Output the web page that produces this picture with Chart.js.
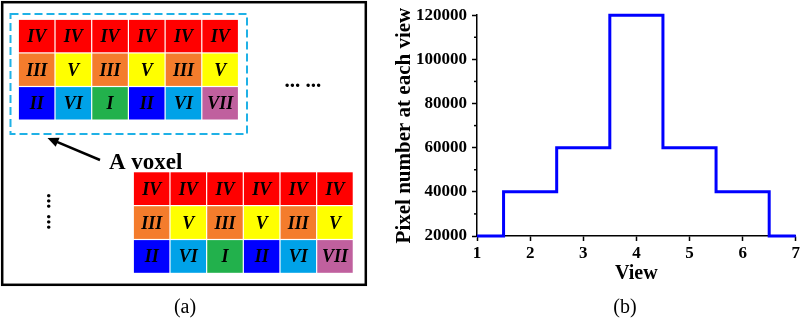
<!DOCTYPE html>
<html><head><meta charset="utf-8">
<script src="https://cdn.jsdelivr.net/npm/chart.js@4"></script>
<style>
html,body{margin:0;padding:0;background:#fff;}
#wrap{position:relative;width:802px;height:333px;overflow:hidden;background:#fff;}
#c1{position:absolute;left:0;top:0;}
#c2{position:absolute;left:392px;top:0;}
</style></head><body>
<div id="wrap">
<canvas id="c1" width="392" height="333"></canvas>
<canvas id="c2" width="410" height="333"></canvas>
</div>
<script>
// ---- data ----
const views = [1, 2, 3, 4, 5, 6, 7];
const pixelCounts = [20000, 40000, 60000, 120000, 60000, 40000, 20000];
const yTicks = [20000, 40000, 60000, 80000, 100000, 120000];
const yMinorTicks = [30000, 50000, 70000, 90000, 110000];
const voxelRows = [
  ['IV', 'IV', 'IV', 'IV', 'IV', 'IV'],
  ['III', 'V', 'III', 'V', 'III', 'V'],
  ['II', 'VI', 'I', 'II', 'VI', 'VII']
];
const viewColors = {I: '#22b14c', II: '#0000ff', III: '#f47c2c', IV: '#ff0000', V: '#ffff00', VI: '#00a2e8', VII: '#c0609e'};
const voxelLabel = 'A voxel';
const captions = ['(a)', '(b)'];
const yTitle = 'Pixel number at each view';
const xTitle = 'View';

const SERIF = '"Liberation Serif", "Times New Roman", serif';

// ---- left panel (diagram) ----
const diagramPlugin = {
  id: 'diagram',
  afterDraw(chart) {
    const ctx = chart.ctx;
    const X = v => chart.scales.x.getPixelForValue(v);
    const Y = v => chart.scales.y.getPixelForValue(v);
    ctx.save();
    // outer frame
    ctx.strokeStyle = '#000'; ctx.lineWidth = 2.5;
    ctx.strokeRect(X(2.2), Y(2.2), X(365.8) - X(2.2), Y(284.8) - Y(2.2));
    // grids
    function grid(ox, oy, cw, ch) {
      voxelRows.forEach((row, r) => {
        row.forEach((lab, c) => {
          const x0 = X(ox + c * cw), x1 = X(ox + (c + 1) * cw);
          const y0 = Y(oy + r * ch), y1 = Y(oy + (r + 1) * ch);
          ctx.fillStyle = viewColors[lab];
          ctx.fillRect(x0 + 0.6, y0 + 0.6, x1 - x0 - 1.2, y1 - y0 - 1.2);
          ctx.fillStyle = '#000';
          ctx.font = 'italic bold 18px ' + SERIF;
          ctx.textAlign = 'center'; ctx.textBaseline = 'alphabetic';
          ctx.fillText(lab, (x0 + x1) / 2, (y0 + y1) / 2 + 6);
        });
      });
    }
    grid(18.3, 19.3, 36.7, 33.6);
    grid(133.3, 171.7, 36.67, 33.9);
    // dashed voxel frame
    ctx.strokeStyle = '#1fb1e6'; ctx.lineWidth = 2;
    ctx.setLineDash([8, 4]);
    ctx.strokeRect(X(10.5), Y(14), X(247) - X(10.5), Y(134) - Y(14));
    ctx.setLineDash([]);
    // ellipses
    ctx.fillStyle = '#000';
    ctx.font = 'bold 21px ' + SERIF;
    ctx.textAlign = 'left'; ctx.textBaseline = 'alphabetic';
    ctx.fillText('... ...', X(284.5), Y(87));
    ctx.save();
    ctx.translate(X(47), Y(193));
    ctx.rotate(Math.PI / 2);
    ctx.fillText('... ...', 0, 0);
    ctx.restore();
    // arrow
    const tx = X(47.5), ty = Y(138), sx = X(100), sy = Y(160);
    const ang = Math.atan2(ty - sy, tx - sx);
    ctx.strokeStyle = '#000'; ctx.lineWidth = 2.5;
    ctx.beginPath();
    ctx.moveTo(sx, sy);
    ctx.lineTo(tx - Math.cos(ang) * 7, ty - Math.sin(ang) * 7);
    ctx.stroke();
    ctx.beginPath();
    ctx.moveTo(tx, ty);
    ctx.lineTo(tx - Math.cos(ang) * 11 - Math.sin(ang) * 5, ty - Math.sin(ang) * 11 + Math.cos(ang) * 5);
    ctx.lineTo(tx - Math.cos(ang) * 11 + Math.sin(ang) * 5, ty - Math.sin(ang) * 11 - Math.cos(ang) * 5);
    ctx.closePath();
    ctx.fill();
    // label
    ctx.font = 'bold 23px ' + SERIF;
    ctx.textAlign = 'left';
    ctx.fillText(voxelLabel, X(109), Y(168.5));
    // caption
    ctx.font = '20px ' + SERIF;
    ctx.textAlign = 'center';
    ctx.fillText(captions[0], X(185), Y(312.5));
    ctx.restore();
  }
};

new Chart(document.getElementById('c1'), {
  type: 'scatter',
  data: {datasets: []},
  options: {
    responsive: false, animation: false, events: [],
    layout: {padding: 0},
    plugins: {legend: {display: false}, tooltip: {enabled: false}},
    scales: {
      x: {type: 'linear', display: false, min: 0, max: 392},
      y: {type: 'linear', display: false, min: 0, max: 333, reverse: true}
    }
  },
  plugins: [diagramPlugin]
});

// ---- right panel (step chart) ----
const extrasPlugin = {
  id: 'extras',
  afterDraw(chart) {
    const ctx = chart.ctx;
    const ys = chart.scales.y;
    const left = chart.chartArea.left;
    ctx.save();
    ctx.strokeStyle = '#000'; ctx.lineWidth = 1.5;
    yMinorTicks.forEach(v => {
      const y = ys.getPixelForValue(v);
      ctx.beginPath(); ctx.moveTo(left - 3, y); ctx.lineTo(left, y); ctx.stroke();
    });
    ctx.fillStyle = '#000';
    ctx.font = '20px ' + SERIF;
    ctx.textAlign = 'center'; ctx.textBaseline = 'alphabetic';
    ctx.fillText(captions[1], 233, 312.5);
    ctx.restore();
  }
};

const tickFont = {family: SERIF, size: 17, weight: 'bold'};
new Chart(document.getElementById('c2'), {
  type: 'line',
  data: {
    datasets: [{
      data: views.map((v, i) => ({x: v, y: pixelCounts[i]})),
      stepped: 'middle',
      borderColor: '#0000ff',
      borderWidth: 3,
      pointRadius: 0,
      fill: false,
      clip: false
    }]
  },
  options: {
    responsive: false, animation: false, events: [],
    layout: {padding: {left: 0, right: 6, top: 14, bottom: 47}},
    plugins: {legend: {display: false}, tooltip: {enabled: false}},
    scales: {
      x: {
        type: 'linear', min: 1, max: 7,
        afterBuildTicks: s => { s.ticks = views.map(v => ({value: v})); },
        ticks: {color: '#000', font: tickFont, padding: 2, maxRotation: 0, autoSkip: false, callback: v => String(v)},
        grid: {display: true, drawOnChartArea: false, drawTicks: true, tickLength: 5, tickWidth: 1.5, tickColor: '#000'},
        border: {display: true, color: '#000', width: 1.5},
        title: {display: true, text: xTitle, color: '#000', font: {family: SERIF, size: 20, weight: 'bold'}, padding: 0},
        afterFit: s => { s.height = 50; }
      },
      y: {
        type: 'linear', min: 20000, max: 120000,
        afterBuildTicks: s => { s.ticks = yTicks.map(v => ({value: v})); },
        ticks: {color: '#000', font: tickFont, padding: 5, autoSkip: false, callback: v => String(v)},
        grid: {display: true, drawOnChartArea: false, drawTicks: true, tickLength: 5, tickWidth: 1.5, tickColor: '#000'},
        border: {display: true, color: '#000', width: 1.5},
        title: {display: true, text: yTitle, color: '#000', font: {family: SERIF, size: 21, weight: 'bold'}, padding: 0},
        afterFit: s => { s.width = 85; }
      }
    }
  },
  plugins: [extrasPlugin]
});
</script>
</body></html>
